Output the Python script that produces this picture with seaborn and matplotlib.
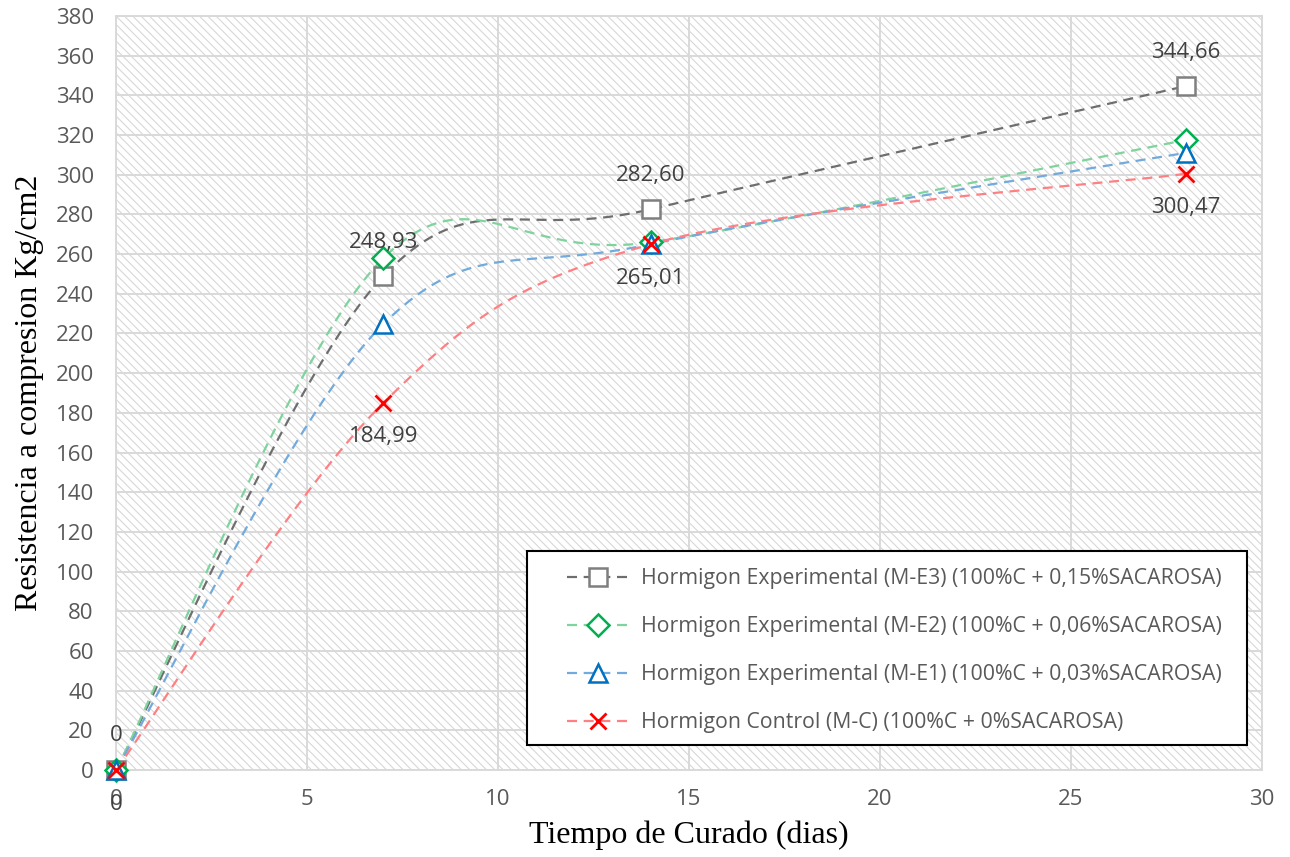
import numpy as np
import matplotlib
matplotlib.use("Agg")
import matplotlib.pyplot as plt
from matplotlib.patches import Rectangle
from matplotlib.lines import Line2D
import seaborn as sns
import pandas as pd

# ---- data ----
days = [0, 7, 14, 28]
me3 = [0, 248.93, 282.60, 344.66]
me2 = [0, 258.0, 266.0, 317.5]
me1 = [0, 224.8, 265.0, 311.0]
mc = [0, 184.99, 265.01, 300.47]
series_names = [
    "Hormigon Experimental (M-E3) (100%C + 0,15%SACAROSA)",
    "Hormigon Experimental (M-E2) (100%C + 0,06%SACAROSA)",
    "Hormigon Experimental (M-E1) (100%C + 0,03%SACAROSA)",
    "Hormigon Control (M-C) (100%C + 0%SACAROSA)",
]
labels_me3 = ["0", "248,93", "282,60", "344,66"]
labels_mc = ["0", "184,99", "265,01", "300,47"]
x_ticks = [0, 5, 10, 15, 20, 25, 30]
y_ticks = list(range(0, 381, 20))

sns.set_style("white")
plt.rcParams["font.family"] = ["Open Sans", "DejaVu Sans"]
plt.rcParams["hatch.linewidth"] = 0.8


def smooth(xs, ys, n=60):
    """Excel-like smoothed line (Catmull-Rom Bezier) through the data points."""
    P = np.column_stack([xs, ys]).astype(float)
    out = []
    for i in range(len(P) - 1):
        p0 = P[i - 1] if i > 0 else P[i]
        p1, p2 = P[i], P[i + 1]
        p3 = P[i + 2] if i + 2 < len(P) else P[i + 1]
        c1 = p1 + (p2 - p0) / 6.0
        c2 = p2 - (p3 - p1) / 6.0
        t = np.linspace(0, 1, n)[:, None]
        seg = ((1 - t) ** 3) * p1 + 3 * ((1 - t) ** 2) * t * c1 + 3 * (1 - t) * t ** 2 * c2 + t ** 3 * p2
        out.append(seg if i == 0 else seg[1:])
    S = np.vstack(out)
    return S[:, 0], S[:, 1]


fig = plt.figure(figsize=(12.9, 8.57), dpi=100)
ax = fig.add_axes([116 / 1290, 87 / 857, 1146 / 1290, 754 / 857])

ax.add_patch(Rectangle((0, 0), 1, 1, transform=ax.transAxes, facecolor="white",
                       edgecolor="#d8d8d8", hatch="\\\\\\\\", lw=0, zorder=0))

styles = [
    (me3, "#6e6e6e", "s", "#7f7f7f", 13),
    (me2, "#7fd39c", "D", "#00b050", 11),
    (me1, "#72aadc", "^", "#0070c0", 13),
    (mc, "#ff7f82", "x", "#ff0000", 12),
]
dash = (4.5, 3)
handles = []
for (vals, lc, mk, mc_, ms), name in zip(styles, series_names):
    sx, sy = smooth(days, vals)
    df = pd.DataFrame({"x": sx, "y": sy})
    sns.lineplot(data=df, x="x", y="y", sort=False, estimator=None, ax=ax,
                 color=lc, lw=1.6, dashes=False, zorder=3)
    ax.lines[-1].set_dashes(dash)
    ax.plot(days, vals, linestyle="none", marker=mk, ms=ms, mec=mc_,
            mfc="white" if mk != "x" else mc_, mew=2.0 if mk == "x" else 1.8,
            zorder=4, clip_on=False)
    handles.append(Line2D([], [], color=lc, lw=1.6, dashes=dash, marker=mk, ms=ms,
                          mec=mc_, mfc="white" if mk != "x" else mc_,
                          mew=2.0 if mk == "x" else 1.8))

for x, y, t in zip(days, me3, labels_me3):
    ax.annotate(t, (x, y), xytext=(0, 24.5), textcoords="offset points",
                ha="center", va="center", fontsize=16, color="#404040", zorder=5,
                annotation_clip=False)
for x, y, t in zip(days, mc, labels_mc):
    ax.annotate(t, (x, y), xytext=(0, -24.5), textcoords="offset points",
                ha="center", va="center", fontsize=16, color="#404040", zorder=5,
                annotation_clip=False)

ax.set_xlim(0, 30)
ax.set_ylim(0, 380)
ax.set_xticks(x_ticks)
ax.set_yticks(y_ticks)
ax.set_xticklabels([str(v) for v in x_ticks])
ax.set_yticklabels([str(v) for v in y_ticks])
ax.tick_params(axis="both", length=0, labelsize=16, labelcolor="#595959")
ax.tick_params(axis="x", pad=14)
ax.tick_params(axis="y", pad=16)
ax.grid(True, color="#d9d9d9", lw=1.4)
ax.set_axisbelow(True)
for s in ax.spines.values():
    s.set_color("#d9d9d9")
    s.set_linewidth(1.4)

ax.set_xlabel("Tiempo de Curado (dias)", fontsize=23, family="Liberation Serif",
              color="black", labelpad=7)
ax.set_ylabel("Resistencia a compresion Kg/cm2", fontsize=23, family="Liberation Serif",
              color="black", labelpad=8)

# legend frame (drawn as a box) and legend entries
ax.add_patch(Rectangle((0.3586, 0.0332), 0.9869 - 0.3586, 0.2905 - 0.0332,
                       transform=ax.transAxes, facecolor="white", edgecolor="black",
                       lw=1.5, zorder=9))
leg = ax.legend(handles=handles, labels=series_names, loc="center left",
                bbox_to_anchor=(0.3935, 0.1585), borderaxespad=0, borderpad=0,
                frameon=False, fontsize=15.3, handlelength=2.9, handletextpad=0.6,
                labelspacing=1.27)
for t in leg.get_texts():
    t.set_color("#595959")
leg.set_zorder(10)

fig.savefig("out.png", dpi=100)
